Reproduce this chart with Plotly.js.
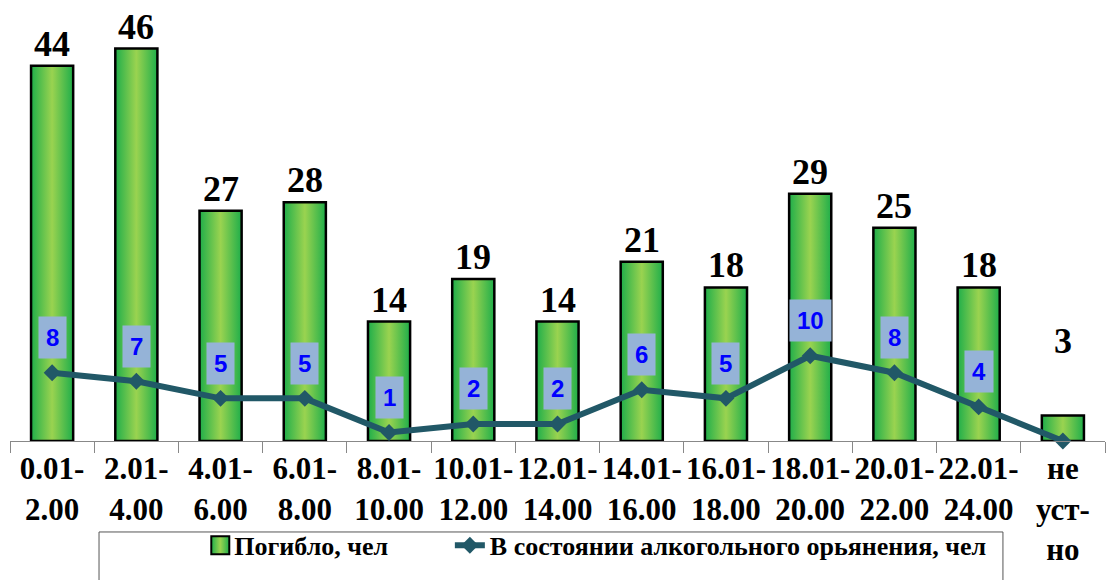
<!DOCTYPE html>
<html>
<head>
<meta charset="utf-8">
<script src="https://cdn.plot.ly/plotly-3.0.1.min.js"></script>
<style>
html,body{margin:0;padding:0;background:#fff;}
#chart{width:1108px;height:580px;}
</style>
</head>
<body>
<div id="chart"></div>
<script>
const categories = ["0.01-<br>2.00","2.01-<br>4.00","4.01-<br>6.00","6.01-<br>8.00","8.01-<br>10.00","10.01-<br>12.00","12.01-<br>14.00","14.01-<br>16.00","16.01-<br>18.00","18.01-<br>20.00","20.01-<br>22.00","22.01-<br>24.00","не<br>уст-<br>но"];
const deaths = [44, 46, 27, 28, 14, 19, 14, 21, 18, 29, 25, 18, 3];
const drunk = [8, 7, 5, 5, 1, 2, 2, 6, 5, 10, 8, 4, 0];
const seriesNames = ["Погибло, чел", "В состоянии алкогольного орьянения, чел"];

const serif = "Liberation Serif, Times New Roman, serif";
const sans = "Liberation Sans, Arial, sans-serif";
const lineColor = "#215867";

const traces = [
  {
    type: "bar", x: categories, y: deaths, name: seriesNames[0],
    marker: {color: "#22B14C", line: {color: "#000", width: 2.5}},
    legend: "legend", hoverinfo: "none"
  },
  {
    type: "scatter", mode: "lines+markers", x: categories, y: drunk, name: seriesNames[1],
    line: {color: lineColor, width: 6},
    marker: {symbol: "diamond", size: 13, color: lineColor},
    legend: "legend2", hoverinfo: "none", cliponaxis: false
  }
];

const annotations = [];
deaths.forEach((v, i) => {
  annotations.push({
    x: categories[i], y: v, xref: "x", yref: "y", text: String(v),
    showarrow: false, yanchor: "bottom", yshift: (i === deaths.length - 1 ? 52 : 0),
    font: {family: serif, size: 36, color: "#000", weight: "bold"}
  });
});
drunk.forEach((v, i) => {
  if (v > 0) {
    annotations.push({
      x: categories[i], y: v, xref: "x", yref: "y", text: String(v),
      showarrow: false, yanchor: "middle", yshift: 35,
      bgcolor: "#95B3D7", borderpad: 7,
      font: {family: sans, size: 24, color: "#0000FF", weight: "bold"}
    });
  }
});

const layout = {
  width: 1108, height: 580,
  margin: {l: 10, r: 3, t: 0, b: 139, autoexpand: false},
  paper_bgcolor: "#fff", plot_bgcolor: "#fff",
  bargap: 0.5,
  showlegend: true,
  xaxis: {
    type: "category", range: [-0.5, categories.length - 0.5],
    showgrid: false, zeroline: false, automargin: false,
    showline: true, linecolor: "#888", linewidth: 1,
    ticks: "outside", tickson: "boundaries", ticklen: 11, tickcolor: "#888",
    tickangle: 0,
    tickfont: {family: serif, size: 31, color: "#000", weight: "bold"},
    fixedrange: true
  },
  yaxis: {
    range: [0, 51.7], visible: false, showgrid: false, zeroline: false, fixedrange: true
  },
  legend: {
    orientation: "h", x: 0.1683, xanchor: "left", y: -0.1835, yanchor: "top",
    bgcolor: "rgba(0,0,0,0)", borderwidth: 0,
    font: {family: serif, size: 26, color: "#000", weight: "bold"}
  },
  legend2: {
    orientation: "h", x: 0.4017, xanchor: "left", y: -0.1835, yanchor: "top",
    bgcolor: "rgba(0,0,0,0)", borderwidth: 0,
    font: {family: serif, size: 26, color: "#000", weight: "bold"}
  },
  shapes: [{
    type: "rect", xref: "paper", yref: "paper",
    x0: 0.0813, x1: 0.9068, y0: -0.2063, y1: -0.36,
    line: {color: "#555", width: 1}, fillcolor: "rgba(0,0,0,0)", layer: "below"
  }],
  annotations: annotations
};

Plotly.newPlot("chart", traces, layout, {displayModeBar: false, staticPlot: true}).then(gd => {
  const svg = gd.querySelector("svg.main-svg");
  const ns = "http://www.w3.org/2000/svg";
  let defs = svg.querySelector("defs");
  if (!defs) { defs = document.createElementNS(ns, "defs"); svg.insertBefore(defs, svg.firstChild); }
  const grad = document.createElementNS(ns, "linearGradient");
  grad.setAttribute("id", "barGrad");
  grad.setAttribute("x1", "0"); grad.setAttribute("x2", "1");
  grad.setAttribute("y1", "0"); grad.setAttribute("y2", "0");
  [["0", "#1FAE4A"], ["0.5", "#9AD350"], ["1", "#1FAE4A"]].forEach(([o, c]) => {
    const s = document.createElementNS(ns, "stop");
    s.setAttribute("offset", o); s.setAttribute("stop-color", c);
    grad.appendChild(s);
  });
  defs.appendChild(grad);
  gd.querySelectorAll(".barlayer .point path").forEach(p => { p.style.fill = "url(#barGrad)"; });
  gd.querySelectorAll(".legendpoints path").forEach(p => {
    const f = p.style.fill || "";
    if (f.indexOf("34, 177, 76") >= 0 || f.toLowerCase() === "#22b14c") {
      p.setAttribute("d", "M-9,-9H9V9H-9Z");
      p.setAttribute("transform", "translate(26,0)");
      p.style.fill = "url(#barGrad)";
      p.style.stroke = "#000";
      p.style.strokeWidth = "2px";
    }
  });
});
</script>
</body>
</html>
